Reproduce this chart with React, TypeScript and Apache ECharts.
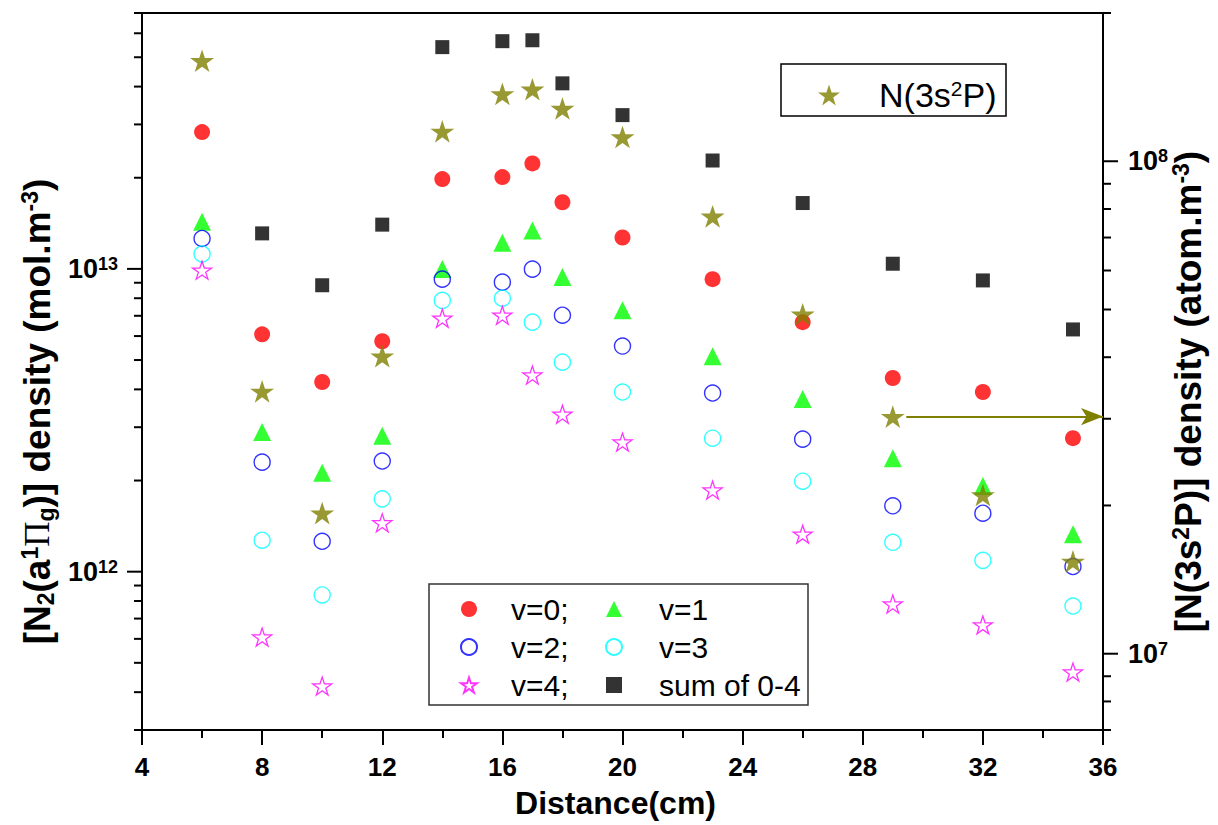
import React, { useEffect, useRef } from 'react';
import * as echarts from 'echarts';

const FONT = '"Liberation Sans", Arial, Helvetica, sans-serif';

// ---------- data ----------
const distance = [6, 8, 10, 12, 14, 16, 17, 18, 20, 23, 26, 29, 32, 35];
const v0 = [2.83e13, 6.08e12, 4.23e12, 5.77e12, 1.98e13, 2.01e13, 2.23e13, 1.66e13, 1.27e13, 9.25e12, 6.67e12, 4.36e12, 3.92e12, 2.76e12];
const v1 = [1.43e13, 2.89e12, 2.12e12, 2.81e12, 1.0e13, 1.22e13, 1.34e13, 9.4e12, 7.3e12, 5.15e12, 3.72e12, 2.37e12, 1.92e12, 1.33e12];
const v2 = [1.26e13, 2.3e12, 1.26e12, 2.32e12, 9.25e12, 9.04e12, 9.98e12, 7.03e12, 5.56e12, 3.89e12, 2.74e12, 1.65e12, 1.56e12, 1.04e12];
const v3 = [1.12e13, 1.27e12, 8.38e11, 1.74e12, 7.87e12, 8.0e12, 6.67e12, 4.92e12, 3.92e12, 2.76e12, 1.99e12, 1.25e12, 1.09e12, 7.7e11];
const v4 = [9.9e12, 6.08e11, 4.19e11, 1.45e12, 6.87e12, 7.03e12, 4.46e12, 3.31e12, 2.68e12, 1.86e12, 1.33e12, 7.82e11, 6.67e11, 4.66e11];
const sum04 = [7.63e13, 1.31e13, 8.83e12, 1.4e13, 5.4e13, 5.65e13, 5.69e13, 4.1e13, 3.22e13, 2.28e13, 1.65e13, 1.04e13, 9.16e12, 6.31e12];
const n3s2p = [1.6e8, 3.41e7, 1.93e7, 4.02e7, 1.15e8, 1.37e8, 1.4e8, 1.28e8, 1.12e8, 7.73e7, 4.89e7, 3.03e7, 2.1e7, 1.54e7];

const seriesNames = ['v=0;', 'v=1', 'v=2;', 'v=3', 'v=4;', 'sum of 0-4'];
const nName = 'N(3s2P)';

const X_MIN = 4;
const X_MAX = 36;
const X_STEP = 4;
const LEFT_MIN = 3e11;
const LEFT_MAX = 7e13;
const RIGHT_MIN = 7e6;
const RIGHT_MAX = 2e8;
// arrow from the N(3s2P) point at 29 cm to the right axis
const arrowStartX = 29.45;
const arrowValue = 3.03e7;

const STAR = 'path://M50,2 L61.2,36.2 L97.6,36.2 L68.2,57.6 L79.4,91.8 L50,70.6 L20.6,91.8 L31.8,57.6 L2.4,36.2 L38.8,36.2 Z';

function logTicks(min: number, max: number) {
  const major: number[] = [];
  const minor: number[] = [];
  for (let e = Math.floor(Math.log10(min)); e <= Math.ceil(Math.log10(max)); e++) {
    for (let m = 1; m <= 9; m++) {
      const v = m * Math.pow(10, e);
      if (v < min * 0.999 || v > max * 1.001) continue;
      (m === 1 ? major : minor).push(v);
    }
  }
  return { major, minor };
}

const pair = (vals: number[]) => distance.map((d, i) => [d, vals[i]]);

function tickSeries(yAxisIndex: number, xEdge: number, dir: number, values: number[], len: number) {
  return {
    type: 'custom',
    xAxisIndex: 0,
    yAxisIndex,
    silent: true,
    clip: false,
    z: 6,
    data: values.map((v) => [xEdge, v]),
    renderItem: (_p: any, api: any) => {
      const p = api.coord([api.value(0), api.value(1)]);
      return {
        type: 'line',
        shape: { x1: p[0], y1: p[1], x2: p[0] + dir * len, y2: p[1] },
        style: { stroke: '#000', lineWidth: 2 },
      };
    },
  };
}

const powLabel = (v: number) => {
  const e = Math.log10(v);
  if (Math.abs(e - Math.round(e)) > 1e-6) return '';
  return `{b|10}{s|${Math.round(e)}}`;
};

const tickRich = {
  b: { fontSize: 27, fontWeight: 'bold', fontFamily: FONT, color: '#000', lineHeight: 28 },
  s: { fontSize: 18, fontWeight: 'bold', fontFamily: FONT, color: '#000', verticalAlign: 'top', lineHeight: 14 },
};

const makeTitleRich = (fs: number) => ({
  t: { fontSize: fs, fontWeight: 'bold', fontFamily: FONT, color: '#000', lineHeight: fs + 2 },
  sub: { fontSize: Math.round(fs * 0.62), fontWeight: 'bold', fontFamily: FONT, color: '#000', verticalAlign: 'bottom', lineHeight: Math.round(fs * 0.58) },
  sup: { fontSize: Math.round(fs * 0.62), fontWeight: 'bold', fontFamily: FONT, color: '#000', verticalAlign: 'top', lineHeight: Math.round(fs * 0.52) },
  pi: { fontSize: fs - 2, fontFamily: '"Liberation Serif", "DejaVu Serif", serif', color: '#000', lineHeight: fs + 2 },
});

export default function App() {
  const ref = useRef<HTMLDivElement>(null);
  useEffect(() => {
    if (!ref.current) return;
    const chart = echarts.init(ref.current, null, { renderer: 'svg' });
    const lt = logTicks(LEFT_MIN, LEFT_MAX);
    const rt = logTicks(RIGHT_MIN, RIGHT_MAX);

    const legendText = (gap: number) => ({
      color: '#000',
      rich: {
        g: { width: gap, lineHeight: 16 },
        t: { fontSize: 30, fontFamily: FONT, color: '#000', lineHeight: 16 },
      },
    });

    const legendCommon = {
      orient: 'vertical',
      selectedMode: false,
      padding: 0,
      itemWidth: 16,
      itemHeight: 16,
      itemGap: 8,
      formatter: (name: string) => `{g|}{t|${name}}`,
    };

    const option: any = {
      animation: false,
      backgroundColor: '#fff',
      grid: {
        left: 142, right: 115, top: 13, bottom: 95,
        containLabel: false, outerBoundsMode: 'none',
        show: true, borderColor: '#000', borderWidth: 2, backgroundColor: 'transparent',
      },
      xAxis: {
        type: 'value',
        min: X_MIN,
        max: X_MAX,
        interval: X_STEP,
        name: 'Distance(cm)',
        nameLocation: 'middle',
        nameGap: 57,
        nameTextStyle: { fontSize: 32, fontWeight: 'bold', fontFamily: FONT, color: '#000', padding: [0, 14, 0, 0] },
        axisLine: { show: true, lineStyle: { color: '#000', width: 2 } },
        axisTick: { show: true, inside: false, length: 15, lineStyle: { color: '#000', width: 2 } },
        minorTick: { show: true, splitNumber: 2, length: 8, lineStyle: { color: '#000', width: 2 } },
        splitLine: { show: false },
        minorSplitLine: { show: false },
        axisLabel: { margin: 24, fontSize: 26, fontWeight: 'bold', fontFamily: FONT, color: '#000' },
      },
      yAxis: [
        {
          type: 'log',
          logBase: 10,
          min: LEFT_MIN,
          max: LEFT_MAX,
          position: 'left',
          name: '{t|[N}{sub|2}{t|(a}{sup|1}{pi|Π}{sub|g}{t|)] density (mol.m}{sup|-3}{t|)}',
          nameLocation: 'middle',
          nameRotate: 90,
          nameGap: 78,
          nameTextStyle: { rich: makeTitleRich(37), padding: [0, 80, 0, 0] },
          axisLine: { show: true, lineStyle: { color: '#000', width: 2 } },
          axisTick: { show: false },
          splitLine: { show: false },
          axisLabel: { margin: 24, formatter: powLabel, rich: tickRich },
        },
        {
          type: 'log',
          logBase: 10,
          min: RIGHT_MIN,
          max: RIGHT_MAX,
          position: 'right',
          name: '{t|[N(3s}{sup|2}{t|P)] density (atom.m}{sup|-3}{t|)}',
          nameLocation: 'middle',
          nameRotate: 90,
          nameGap: 66,
          nameMoveOverlap: false,
          nameTextStyle: { rich: makeTitleRich(37), padding: [0, 40, 0, 0] },
          axisLine: { show: true, lineStyle: { color: '#000', width: 2 } },
          axisTick: { show: false },
          splitLine: { show: false },
          axisLabel: { margin: 25, formatter: powLabel, rich: tickRich },
        },
      ],
      legend: [
        { ...legendCommon, left: 460, top: 594, textStyle: legendText(29), data: ['v=0;', 'v=2;', 'v=4;'] },
        { ...legendCommon, left: 605, top: 594, textStyle: legendText(32), data: ['v=1', 'v=3', 'sum of 0-4'] },
        {
          orient: 'vertical',
          selectedMode: false,
          padding: 0,
          left: 818,
          top: 78,
          itemWidth: 22,
          itemHeight: 22,
          data: [nName],
          formatter: () => '{g|}{a|N(3s}{s|2}{a|P)}',
          textStyle: {
            color: '#000',
            rich: {
              g: { width: 34, lineHeight: 34 },
              a: { fontSize: 34, fontFamily: FONT, color: '#000', lineHeight: 34 },
              s: { fontSize: 21, fontFamily: FONT, color: '#000', verticalAlign: 'top', lineHeight: 16 },
            },
          },
        },
      ],
      graphic: [
        { type: 'rect', shape: { x: 429, y: 584, width: 379, height: 121 }, style: { fill: 'none', stroke: '#333', lineWidth: 1.5 }, z: 10 },
        { type: 'rect', shape: { x: 781, y: 64, width: 225, height: 52 }, style: { fill: 'none', stroke: '#000', lineWidth: 1.5 }, z: 10 },
      ],
      series: [
        { name: seriesNames[0], type: 'scatter', yAxisIndex: 0, symbol: 'circle', symbolSize: 16, itemStyle: { color: '#ff0000' }, data: pair(v0), z: 3 },
        { name: seriesNames[1], type: 'scatter', yAxisIndex: 0, symbol: 'triangle', symbolSize: 18, itemStyle: { color: '#00ff00' }, data: pair(v1), z: 3 },
        { name: seriesNames[2], type: 'scatter', yAxisIndex: 0, symbol: 'circle', symbolSize: 16, itemStyle: { color: 'rgba(0,0,0,0)', borderColor: '#0000ff', borderWidth: 1.4 }, data: pair(v2), z: 3 },
        { name: seriesNames[3], type: 'scatter', yAxisIndex: 0, symbol: 'circle', symbolSize: 16, itemStyle: { color: 'rgba(0,0,0,0)', borderColor: '#00ffff', borderWidth: 1.4 }, data: pair(v3), z: 3 },
        { name: seriesNames[4], type: 'scatter', yAxisIndex: 0, symbol: STAR, symbolKeepAspect: true, symbolSize: 19, itemStyle: { color: 'rgba(0,0,0,0)', borderColor: '#ff00ff', borderWidth: 1.3 }, data: pair(v4), z: 3 },
        { name: seriesNames[5], type: 'scatter', yAxisIndex: 0, symbol: 'rect', symbolSize: 14, itemStyle: { color: '#000' }, data: pair(sum04), clip: true, z: 3 },
        {
          name: nName,
          type: 'scatter',
          yAxisIndex: 1,
          symbol: STAR,
          symbolKeepAspect: true,
          symbolSize: 24,
          itemStyle: { color: '#808000' },
          data: pair(n3s2p),
          z: 3,
          markLine: {
            silent: true,
            symbol: ['none', 'arrow'],
            symbolSize: [13, 22],
            label: { show: false },
            lineStyle: { color: '#808000', width: 2, type: 'solid' },
            emphasis: { disabled: true },
            data: [[{ coord: [arrowStartX, arrowValue] }, { coord: [X_MAX, arrowValue] }]],
          },
        },
        tickSeries(0, X_MIN, -1, lt.major, 15),
        tickSeries(0, X_MIN, -1, lt.minor, 8),
        tickSeries(1, X_MAX, 1, rt.major, 15),
        tickSeries(1, X_MAX, 1, rt.minor, 8),
      ],
    };
    chart.setOption(option);
    return () => chart.dispose();
  }, []);
  return (
    <div
      ref={ref}
      style={{ position: 'fixed', left: 0, top: 0, width: 1218, height: 825, background: '#fff' }}
    />
  );
}
